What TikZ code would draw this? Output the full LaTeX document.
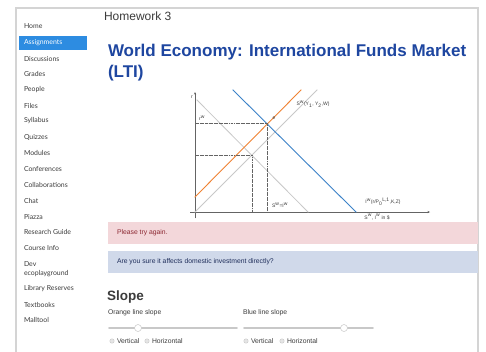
\documentclass[tikz,border=0pt]{standalone}
\usepackage{fontspec}
\setmainfont{Liberation Sans}
\newfontfamily\sidefont{Lato}
\usetikzlibrary{arrows.meta}
\begin{document}
\begin{tikzpicture}[x=1pt,y=-1pt,line cap=rect]
\useasboundingbox (0,0) rectangle (486,351);
\definecolor{custcol_d4_d4_d4}{RGB}{212, 212, 212}
\definecolor{custcol_2d_8c_e1}{RGB}{45, 140, 225}
\definecolor{custcol_3c_3c_3c}{RGB}{60, 60, 60}
\definecolor{custcol_64_64_64}{RGB}{100, 100, 100}
\definecolor{custcol_1e_46_a0}{RGB}{30, 70, 160}
\definecolor{custcol_f0_82_32}{RGB}{240, 130, 50}
\definecolor{custcol_3c_82_c8}{RGB}{60, 130, 200}
\definecolor{custcol_c8_c8_c8}{RGB}{200, 200, 200}
\definecolor{custcol_f3_d7_da}{RGB}{243, 215, 218}
\definecolor{custcol_8c_28_32}{RGB}{140, 40, 50}
\definecolor{custcol_d0_d9_ea}{RGB}{208, 217, 234}
\definecolor{custcol_1e_2d_5a}{RGB}{30, 45, 90}
\tikzset{side/.style={inner sep=0, outer sep=0, custcol_3c_3c_3c, anchor=west, font=\sidefont\fontsize{6.9pt}{6.9pt}\selectfont},
  tiny/.style={inner sep=0, outer sep=0, custcol_3c_3c_3c, font=\fontsize{5pt}{5pt}\selectfont},
  small/.style={inner sep=0, outer sep=0, anchor=west, font=\fontsize{6.8pt}{6.8pt}\selectfont},
  radio/.style={fill=custcol_d4_d4_d4!60, draw=custcol_c8_c8_c8, line width=0.4pt},
  guide/.style={line width=0.4pt, custcol_64_64_64, dash pattern=on 2.5pt off 1pt on 0.6pt off 1pt}}
\fill [white] (0,0) rectangle (486,351);
% page frame
\draw [line width=2.0pt, custcol_d4_d4_d4 ]  (16.0,351.0) -- (16.0,8.0) -- (478.0,8.0) -- (478.0,351.0) ;
% side menu
\fill [custcol_2d_8c_e1]  (19.0,36.0) rectangle (87.0,50.0) ;
\node[side] (home) at (24.0,26.0) {Home};
\node[side, white] (assign) at (24.0,43.0) {Assignments};
\node[side] (discuss) at (24.0,59.0) {Discussions};
\node[side] (grades) at (24.0,74.0) {Grades};
\node[side] (people) at (24.0,90.0) {People};
\node[side] (files) at (24.0,106.0) {Files};
\node[side] (syllabus) at (24.0,121.0) {Syllabus};
\node[side] (quizzes) at (24.0,137.0) {Quizzes};
\node[side] (modules) at (24.0,153.0) {Modules};
\node[side] (confer) at (24.0,169.0) {Conferences};
\node[side] (collab) at (24.0,185.0) {Collaborations};
\node[side] (chat) at (24.0,201.0) {Chat};
\node[side] (piazza) at (24.0,217.0) {Piazza};
\node[side] (research) at (24.0,232.0) {Research Guide};
\node[side] (course) at (24.0,248.0) {Course Info};
\node[side] (dev) at (24.0,264.0) {Dev};
\node[side] (ecoplay) at (24.0,274.0) {ecoplayground};
\node[side] (library) at (24.0,289.0) {Library Reserves};
\node[side] (textbooks) at (24.0,305.0) {Textbooks};
\node[side] (malltool) at (24.0,320.0) {Malltool};
% heading
\node[inner sep=0, outer sep=0, custcol_3c_3c_3c, anchor=west, font=\fontsize{12pt}{12pt}\selectfont] (hw) at (104.0,16.0) {Homework 3};
\node[inner sep=0, outer sep=0, custcol_1e_46_a0, anchor=west, font=\bfseries\fontsize{17pt}{17pt}\selectfont] (title) at (108.0,52.0) {World Economy: International Funds Market};
\node[inner sep=0, outer sep=0, custcol_1e_46_a0, anchor=west, font=\bfseries\fontsize{17pt}{17pt}\selectfont] (lti) at (108.0,73.0) {(LTI)};
% graph
\draw [line width=0.4pt, custcol_64_64_64, -{Stealth[length=2.5pt,width=2pt]}]  (195.0,218.0) -- (195.0,92.0) ;
\draw [line width=0.4pt, custcol_64_64_64, -{Stealth[length=2.5pt,width=2pt]}]  (190.0,212.0) -- (430.0,212.0) ;
\draw [line width=0.8pt, custcol_c8_c8_c8 ]  (197.0,100.0) -- (308.0,212.0) ;
\draw [line width=0.8pt, custcol_c8_c8_c8 ]  (195.0,212.0) -- (317.0,90.0) ;
\draw [line width=0.9pt, custcol_f0_82_32 ]  (195.0,197.0) -- (301.0,90.0) ;
\draw [line width=0.9pt, custcol_3c_82_c8 ]  (233.0,90.0) -- (356.0,212.0) ;
\coordinate (e) at (267.5,123.0);
\coordinate (a) at (252.5,155.0);
\draw [guide]  (195.0,123.0) -- (e) -- (267.5,212.0) ;
\draw [guide]  (195.0,155.0) -- (a) -- (252.5,212.0) ;
\node[tiny] (rlab) at (192.0,97.0) {r};
\node[tiny] (rw) at (202.0,118.0) {r\textsuperscript{w}};
\node[tiny] (elab) at (274.0,118.0) {e};
\node[tiny] (swlab) at (313.0,104.0) {S\textsuperscript{w}(Y\textsubscript{1}, Y\textsubscript{2},W)};
\node[tiny] (sieq) at (280.0,205.0) {S\textsuperscript{w}=I\textsuperscript{w}};
\node[tiny] (iwlab) at (383.0,202.0) {I\textsuperscript{w}(r/P\textsubscript{0}\textsuperscript{L,1},K,Z)};
\node[tiny] (axlab) at (377.0,217.0) {S\textsuperscript{w}, I\textsuperscript{w} in \$};
% feedback boxes
\fill [custcol_f3_d7_da]  (108.0,222.0) rectangle (478.0,244.0) ;
\node[small, custcol_8c_28_32] (again) at (117.0,233.0) {Please try again.};
\fill [custcol_d0_d9_ea]  (108.0,251.0) rectangle (478.0,273.0) ;
\node[small, custcol_1e_2d_5a] (hint) at (117.0,262.0) {Are you sure it affects domestic investment directly?};
% slope controls
\node[inner sep=0, outer sep=0, custcol_3c_3c_3c, anchor=west, font=\bfseries\fontsize{13.5pt}{13.5pt}\selectfont] (slope) at (107.0,297.0) {Slope};
\node[small, custcol_3c_3c_3c] (orlab) at (108.0,313.0) {Orange line slope};
\node[small, custcol_3c_3c_3c] (bllab) at (243.0,313.0) {Blue line slope};
\draw [line width=1.8pt, custcol_c8_c8_c8, line cap=round]  (109.0,328.0) -- (237.0,328.0) ;
\draw [line width=1.8pt, custcol_c8_c8_c8, line cap=round]  (244.0,328.0) -- (373.0,328.0) ;
\filldraw [line width=0.5pt, fill=white, draw=custcol_c8_c8_c8]  (138.0,328.0) circle (3.5) ;
\filldraw [line width=0.5pt, fill=white, draw=custcol_c8_c8_c8]  (344.0,328.0) circle (3.5) ;
\filldraw [radio]  (112.0,341.0) circle (2.2) ;
\node[small, custcol_3c_3c_3c] (vert1) at (117.0,341.0) {Vertical};
\filldraw [radio]  (147.0,341.0) circle (2.2) ;
\node[small, custcol_3c_3c_3c] (hor1) at (152.0,341.0) {Horizontal};
\filldraw [radio]  (246.0,341.0) circle (2.2) ;
\node[small, custcol_3c_3c_3c] (vert2) at (251.0,341.0) {Vertical};
\filldraw [radio]  (282.0,341.0) circle (2.2) ;
\node[small, custcol_3c_3c_3c] (hor2) at (287.0,341.0) {Horizontal};
\end{tikzpicture}
\end{document}
